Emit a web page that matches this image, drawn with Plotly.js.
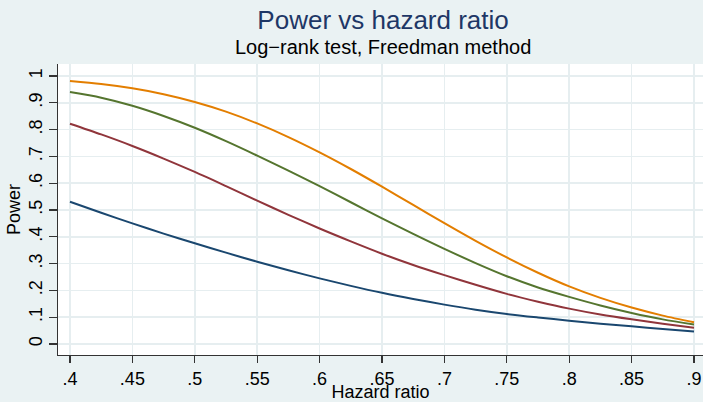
<!DOCTYPE html>
<html>
<head>
<meta charset="utf-8">
<script src="https://cdn.plot.ly/plotly-3.0.1.min.js"></script>
<style>html,body{margin:0;padding:0;background:#eaf2f3;}#chart{width:703px;height:402px;}</style>
</head>
<body>
<div id="chart"></div>
<script>
// Hazard ratio grid
const hazardRatio = [0.4,0.425,0.45,0.475,0.5,0.525,0.55,0.575,0.6,0.625,0.65,0.675,0.7,0.725,0.75,0.775,0.8,0.825,0.85,0.875,0.9];
// Power curves, lowest to highest
const powerNavy   = [0.531,0.490,0.450,0.412,0.376,0.341,0.307,0.275,0.245,0.217,0.191,0.168,0.147,0.128,0.112,0.099,0.087,0.076,0.066,0.056,0.047];
const powerMaroon = [0.822,0.782,0.739,0.692,0.642,0.589,0.535,0.482,0.431,0.383,0.337,0.295,0.257,0.221,0.187,0.158,0.132,0.110,0.092,0.076,0.061];
const powerGreen  = [0.940,0.919,0.889,0.851,0.807,0.757,0.703,0.647,0.589,0.529,0.469,0.411,0.355,0.302,0.253,0.211,0.176,0.144,0.116,0.092,0.073];
const powerOrange = [0.981,0.970,0.954,0.932,0.903,0.867,0.823,0.772,0.715,0.653,0.587,0.519,0.451,0.385,0.323,0.266,0.215,0.172,0.136,0.106,0.081];

const xTickVals = [0.4,0.45,0.5,0.55,0.6,0.65,0.7,0.75,0.8,0.85,0.9];
const xTickText = [".4",".45",".5",".55",".6",".65",".7",".75",".8",".85",".9"];
const yTickVals = [0,0.1,0.2,0.3,0.4,0.5,0.6,0.7,0.8,0.9,1];
const yTickText = ["0",".1",".2",".3",".4",".5",".6",".7",".8",".9","1"];

const seriesList = [
  {y: powerNavy,   color: '#1a476f'},
  {y: powerMaroon, color: '#90353b'},
  {y: powerGreen,  color: '#55752f'},
  {y: powerOrange, color: '#e37e00'}
];

const traces = seriesList.map(s => ({
  x: hazardRatio, y: s.y, type: 'scatter', mode: 'lines',
  line: {color: s.color, width: 2, shape: 'spline', smoothing: 0.8},
  hoverinfo: 'x+y', showlegend: false
}));

const font = "Arial, 'Liberation Sans', sans-serif";
const layout = {
  width: 703, height: 402,
  paper_bgcolor: '#eaf2f3', plot_bgcolor: '#ffffff',
  margin: {l: 58, r: 0, t: 64, b: 47},
  font: {family: font, color: '#000000'},
  showlegend: false,
  title: {
    text: 'Power vs hazard ratio',
    font: {size: 26, color: '#1e3766', family: font},
    x: 0.504, xanchor: 'center', xref: 'paper',
    y: 1 - 20/402, yanchor: 'middle', yref: 'container'
  },
  annotations: [{
    text: 'Log\u2212rank test, Freedman method',
    xref: 'paper', yref: 'paper', x: 0.504, xanchor: 'center',
    y: 1 + 17/291, yanchor: 'middle', showarrow: false,
    font: {size: 20, color: '#000000', family: font}
  }],
  xaxis: {
    range: [0.3904, 0.9072], tickvals: xTickVals, ticktext: xTickText,
    ticks: 'outside', ticklen: 7, tickwidth: 1.3, tickcolor: '#333333',
    showline: true, linecolor: '#333333', linewidth: 1.3,
    showgrid: true, gridcolor: '#e6eef0', gridwidth: 1.5, zeroline: false,
    tickfont: {size: 18, family: font, color: '#000000'},
    ticklabelstandoff: 0,
    title: {text: 'Hazard ratio', font: {size: 18, family: font, color: '#000000'}, standoff: 2},
    fixedrange: true
  },
  yaxis: {
    range: [-0.041, 1.0448], tickvals: yTickVals, ticktext: yTickText,
    ticks: 'outside', ticklen: 8, tickwidth: 1.3, tickcolor: '#333333',
    showline: true, linecolor: '#333333', linewidth: 1.3,
    showgrid: true, gridcolor: '#e6eef0', gridwidth: 1.5, zeroline: false,
    tickangle: -90,
    tickfont: {size: 18, family: font, color: '#000000'},
    title: {text: 'Power', font: {size: 18, family: font, color: '#000000'}, standoff: 0},
    fixedrange: true
  }
};

Plotly.newPlot('chart', traces, layout, {displayModeBar: false, staticPlot: true});
</script>
</body>
</html>
